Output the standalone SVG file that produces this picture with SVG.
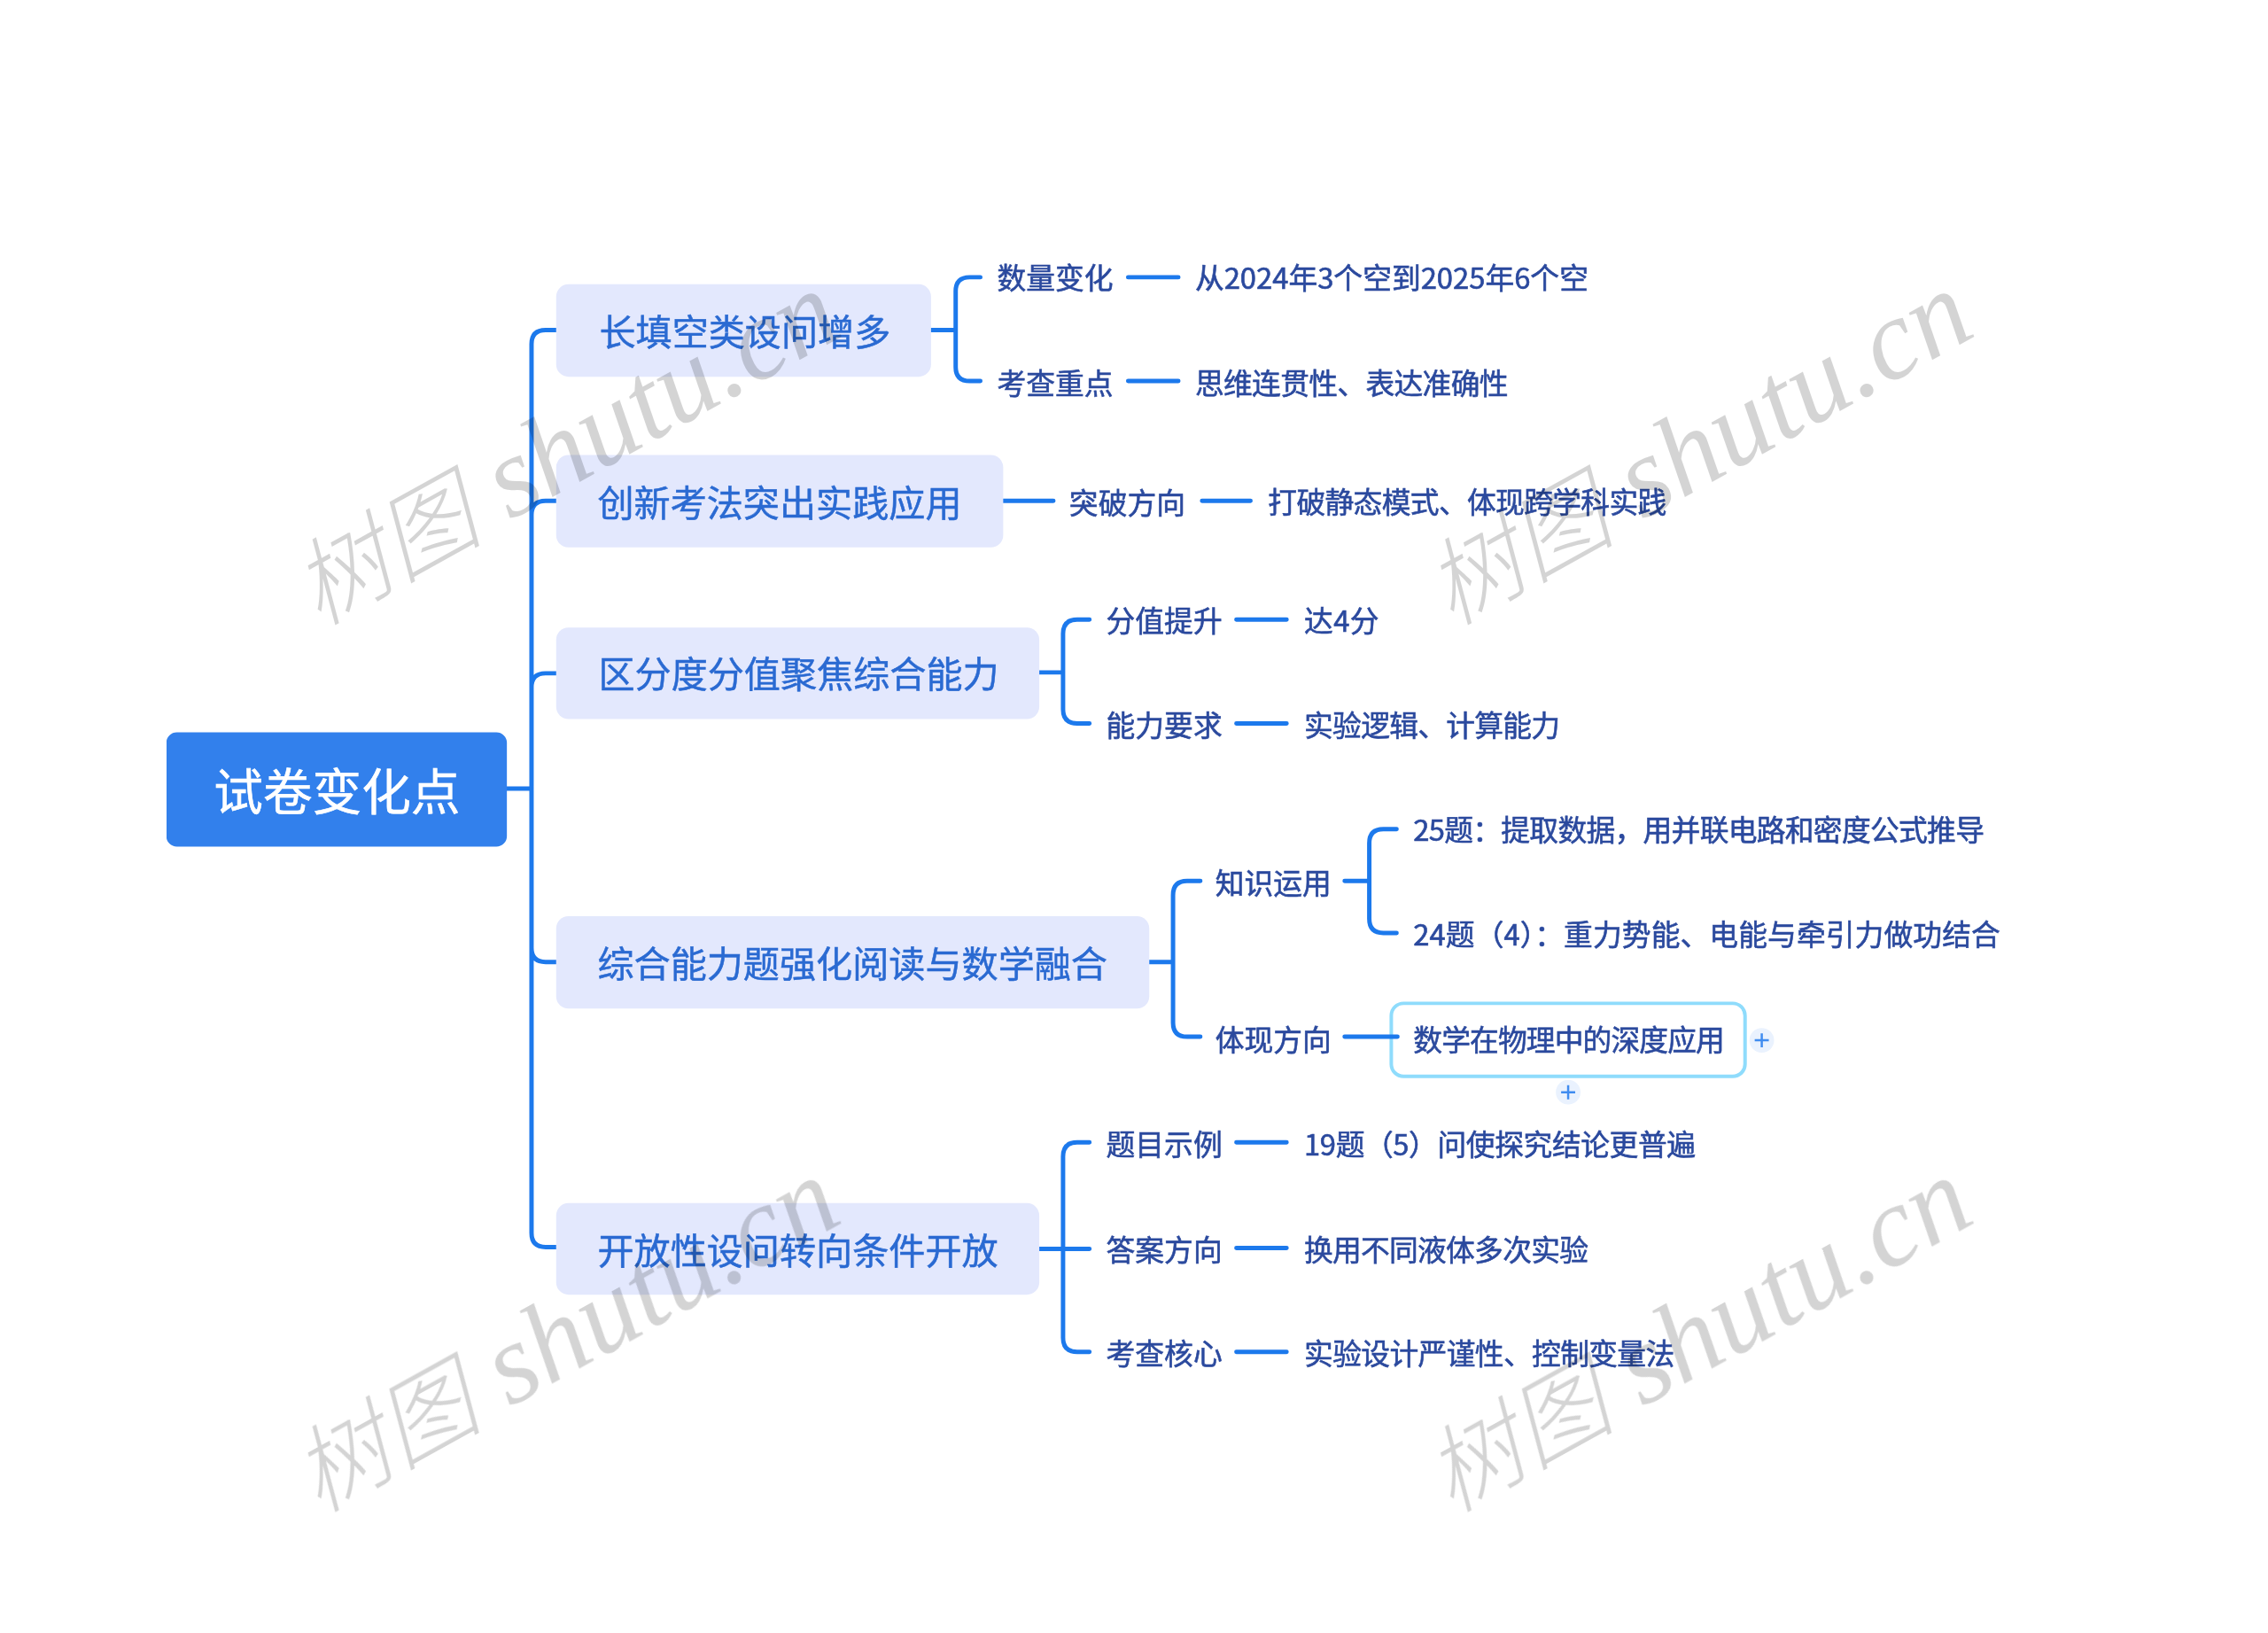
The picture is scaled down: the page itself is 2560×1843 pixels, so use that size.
<svg xmlns="http://www.w3.org/2000/svg" width="2560" height="1843" viewBox="0 0 2560 1843">
<defs><filter id="soft" x="-2%" y="-2%" width="104%" height="104%"><feGaussianBlur stdDeviation="0.8"/></filter></defs>
<style>
text{font-family:"Microsoft YaHei","Noto Sans CJK SC","Noto Sans",sans-serif;dominant-baseline:central}
.l1 rect{fill:#e3e8fd}
.l1 text{font-size:41.4px;fill:#2a6ad2;stroke:#2a6ad2;stroke-width:.5}
.leaf text{font-size:33px;fill:#2c4a9e;stroke:#2c4a9e;stroke-width:.6}
.conn path{fill:none;stroke:#1f79ec;stroke-width:5;stroke-linecap:round}
.wm{font-family:"Liberation Serif","Noto Sans CJK SC",serif;font-style:italic;font-size:130px;fill:#000;fill-opacity:.17;dominant-baseline:auto}
.wm .cjk{font-family:"Noto Sans CJK SC",serif;font-size:108px;font-weight:300}
.plus circle{fill:#eaf2fe}
.plus path{stroke:#3f8cf0;stroke-width:2.5;fill:none}
</style>
<rect width="2560" height="1843" fill="#fff"/>
<g transform="scale(.9933)" filter="url(#soft)">
<g id="d5" class="leaf"><rect x="1581" y="1140" width="402" height="83" rx="14" fill="#fff" stroke="#8fdcfc" stroke-width="4"/><text x="1606" y="1179" textLength="354">数学在物理中的深度应用</text></g>
<g class="conn" id="connectors">
<path d="M576 896H604M632 375H620Q604 375 604 391V1401Q604 1417 620 1417H632M632 569H620Q604 569 604 585M632 765H620Q604 765 604 781M632 1093H620Q604 1093 604 1077"/>
<path d="M1058 375H1086M1114 315H1102Q1086 315 1086 331V417Q1086 433 1102 433H1114M1282 315H1339M1282 433H1339"/>
<path d="M1140 569H1197M1366 569H1421"/>
<path d="M1181 764H1208M1238 704H1224Q1208 704 1208 720V806Q1208 822 1224 822H1238M1405 704H1462M1405 822H1462"/>
<path d="M1306 1093H1333M1364 1001H1349Q1333 1001 1333 1017V1162Q1333 1178 1349 1178H1364M1528 1001H1556M1587 942H1572Q1556 942 1556 958V1044Q1556 1060 1572 1060H1587M1528 1178H1588"/>
<path d="M1181 1419H1238M1238 1298H1224Q1208 1298 1208 1314V1520Q1208 1536 1224 1536H1238M1405 1298H1462M1405 1418H1462M1405 1536H1462"/>
</g>
<g id="root"><rect x="189" y="832" width="387" height="130" rx="12" fill="#3080ec"/><text x="243" y="895" font-size="56" fill="#fff" stroke="#fff" stroke-width=".6" textLength="280">试卷变化点</text></g>
<g id="n1" class="l1"><rect x="632" y="323" width="426" height="105" rx="14"/><text x="681" y="375">长填空类设问增多</text></g>
<g id="n2" class="l1"><rect x="632" y="517" width="508" height="105" rx="14"/><text x="679" y="569">创新考法突出实践应用</text></g>
<g id="n3" class="l1"><rect x="632" y="713" width="549" height="104" rx="14"/><text x="680" y="763">区分度分值聚焦综合能力</text></g>
<g id="n4" class="l1"><rect x="632" y="1041" width="674" height="105" rx="14"/><text x="679" y="1092">综合能力题强化阅读与数学融合</text></g>
<g id="n5" class="l1"><rect x="632" y="1367" width="549" height="104" rx="14"/><text x="679" y="1419">开放性设问转向条件开放</text></g>
<g class="leaf">
<g id="a1"><text x="1133" y="314">数量变化</text></g>
<g id="a2"><text x="1358" y="314" textLength="447">从2024年3个空到2025年6个空</text></g>
<g id="a3"><text x="1133" y="433">考查重点</text></g>
<g id="a4"><text x="1358" y="433" textLength="356">思维连贯性、表达准确性</text></g>
<g id="b1"><text x="1215" y="569">突破方向</text></g>
<g id="b2"><text x="1441" y="568" textLength="453">打破静态模式、体现跨学科实践</text></g>
<g id="c1"><text x="1257" y="703">分值提升</text></g>
<g id="c2"><text x="1482" y="703" textLength="85">达4分</text></g>
<g id="c3"><text x="1257" y="822">能力要求</text></g>
<g id="c4"><text x="1482" y="822" textLength="291">实验逻辑、计算能力</text></g>
<g id="d1"><text x="1381" y="1001">知识运用</text></g>
<g id="d2"><text x="1606" y="941" textLength="649">25题：提取数据，用并联电路和密度公式推导</text></g>
<g id="d3"><text x="1606" y="1060" textLength="667">24题（4）：重力势能、电能与牵引力做功结合</text></g>
<g id="d4"><text x="1381" y="1179">体现方向</text></g>
<g class="plus" id="p1"><circle cx="2002" cy="1182" r="14"/><path d="M1994 1182H2010M2002 1174V1190"/></g>
<g class="plus" id="p2"><circle cx="1782" cy="1241" r="14"/><path d="M1774 1241H1790M1782 1233V1249"/></g>
<g id="e1"><text x="1257" y="1298">题目示例</text></g>
<g id="e2"><text x="1482" y="1298" textLength="445">19题（5）问使探究结论更普遍</text></g>
<g id="e3"><text x="1257" y="1418">答案方向</text></g>
<g id="e4"><text x="1482" y="1418" textLength="323">换用不同液体多次实验</text></g>
<g id="e5"><text x="1257" y="1536">考查核心</text></g>
<g id="e6"><text x="1482" y="1536" textLength="421">实验设计严谨性、控制变量法</text></g>
</g>
<g id="watermarks">
<text class="wm" transform="translate(362 712) rotate(-29)"><tspan class="cjk">树图</tspan> shutu.cn</text>
<text class="wm" transform="translate(1649 712) rotate(-29)"><tspan class="cjk">树图</tspan> shutu.cn</text>
<text class="wm" transform="translate(362 1720) rotate(-29)"><tspan class="cjk">树图</tspan> shutu.cn</text>
<text class="wm" transform="translate(1649 1720) rotate(-29)"><tspan class="cjk">树图</tspan> shutu.cn</text>
</g>
</g>
</svg>
